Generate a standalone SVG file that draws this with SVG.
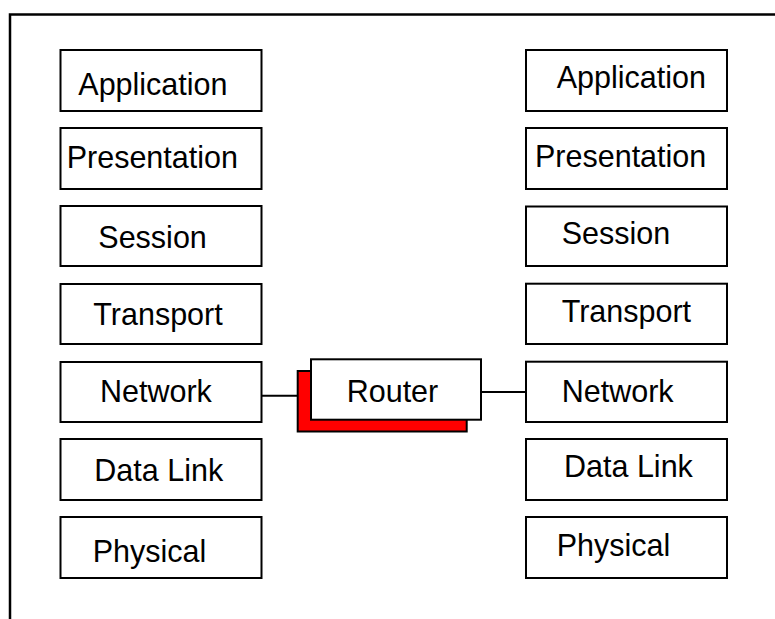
<svg xmlns="http://www.w3.org/2000/svg" width="775" height="619" viewBox="0 0 775 619">
<style>
.box{fill:#fff;stroke:#000;stroke-width:2}
.shadow{fill:#ff0000;stroke:#000;stroke-width:2}
.lbl{font-family:"Liberation Sans",Arial,sans-serif;font-size:30.5px;fill:#000}
.con{stroke:#000;stroke-width:2;fill:none}
</style>
<rect width="775" height="619" fill="#fff"/>
<path d="M10,619 V14.5 H775" fill="none" stroke="#000" stroke-width="2.5"/>
<g id="left-stack">
<g id="l-application"><rect class="box" x="60.5" y="50" width="201" height="61"/><text class="lbl" x="78.3" y="95">Application</text></g>
<g id="l-presentation"><rect class="box" x="60.5" y="128" width="201" height="61"/><text class="lbl" x="66.7" y="167.7">Presentation</text></g>
<g id="l-session"><rect class="box" x="60.5" y="206" width="201" height="60"/><text class="lbl" x="98.3" y="248.3">Session</text></g>
<g id="l-transport"><rect class="box" x="60.5" y="284" width="201" height="60"/><text class="lbl" x="93.3" y="325">Transport</text></g>
<g id="l-network"><rect class="box" x="60.5" y="362" width="201" height="60"/><text class="lbl" x="100" y="401.7">Network</text></g>
<g id="l-datalink"><rect class="box" x="60.5" y="439" width="201" height="61"/><text class="lbl" x="94.3" y="480.7">Data Link</text></g>
<g id="l-physical"><rect class="box" x="60.5" y="517" width="201" height="61"/><text class="lbl" x="92.7" y="562.3">Physical</text></g>
</g>
<g id="right-stack">
<g id="r-application"><rect class="box" x="526" y="50" width="201" height="61"/><text class="lbl" x="556.7" y="88.3">Application</text></g>
<g id="r-presentation"><rect class="box" x="526" y="128" width="201" height="61"/><text class="lbl" x="535" y="166.7">Presentation</text></g>
<g id="r-session"><rect class="box" x="526" y="206.5" width="201" height="59.5"/><text class="lbl" x="561.7" y="244.3">Session</text></g>
<g id="r-transport"><rect class="box" x="526" y="283.7" width="201" height="60.3"/><text class="lbl" x="561.7" y="321.7">Transport</text></g>
<g id="r-network"><rect class="box" x="526" y="361.7" width="201" height="60.3"/><text class="lbl" x="561.7" y="401.7">Network</text></g>
<g id="r-datalink"><rect class="box" x="526" y="439" width="201" height="61"/><text class="lbl" x="564" y="477.3">Data Link</text></g>
<g id="r-physical"><rect class="box" x="526" y="517" width="201" height="61"/><text class="lbl" x="556.7" y="556">Physical</text></g>
</g>
<g id="router">
<rect class="shadow" x="297.7" y="371" width="169" height="60.5"/>
<rect class="box" x="311" y="359.3" width="170" height="60.4"/>
<text class="lbl" x="346.7" y="401.7">Router</text>
</g>
<g id="connectors">
<line class="con" x1="261.5" y1="395.7" x2="297.7" y2="395.7"/>
<line class="con" x1="481" y1="392" x2="526" y2="392"/>
</g>
</svg>
